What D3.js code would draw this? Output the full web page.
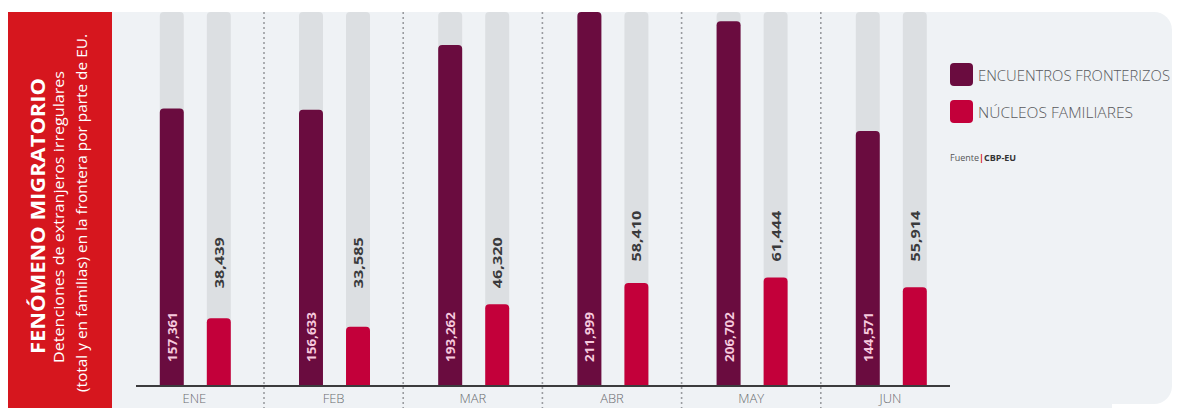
<!DOCTYPE html>
<html>
<head>
<meta charset="utf-8">
<script src="https://cdn.jsdelivr.net/npm/d3@7"></script>
<style>
  body { margin: 0; background: #ffffff; }
  svg { display: block; font-family: "Open Sans", "Noto Sans", sans-serif; }
</style>
</head>
<body>
<svg id="chart" width="1181" height="408"></svg>
<script>
"use strict";

// Data
let months = ['ENE', 'FEB', 'MAR', 'ABR', 'MAY', 'JUN'];
let series = ['ENCUENTROS FRONTERIZOS', 'NÚCLEOS FAMILIARES'];
let encuentros = [157361, 156633, 193262, 211999, 206702, 144571];
let familias = [38439, 33585, 46320, 58410, 61444, 55914];
let trimestre = [1, 1, 1, 2, 2, 2];

let colors = ['#6a0c3f', '#c3003a'];
let fmt = d3.format(',');

let svg = d3.select('#chart');

// Red title panel
svg.append('rect')
    .attr('x', 8).attr('y', 12)
    .attr('width', 104).attr('height', 396)
    .style('fill', '#d6161e');

// Light panel behind the chart (rounded on the right only)
svg.append('rect')
    .attr('x', 112).attr('y', 12)
    .attr('width', 1060).attr('height', 392)
    .attr('rx', 18)
    .style('fill', '#eff2f5');
svg.append('rect')
    .attr('x', 112).attr('y', 12)
    .attr('width', 40).attr('height', 396)
    .style('fill', '#eff2f5');
svg.append('rect')
    .attr('x', 112).attr('y', 390)
    .attr('width', 1000).attr('height', 18)
    .style('fill', '#eff2f5');

// Title texts, rotated
let title = svg.append('g').attr('transform', 'translate(0,216)');
title.append('text')
    .attr('transform', 'translate(37,0) rotate(-90)')
    .attr('text-anchor', 'middle')
    .attr('dominant-baseline', 'central')
    .attr('textLength', 276)
    .attr('lengthAdjust', 'spacingAndGlyphs')
    .style('font-size', '20px')
    .style('font-weight', 700)
    .style('fill', '#ffffff')
    .text('FENÓMENO MIGRATORIO');
title.append('text')
    .attr('transform', 'translate(58,1) rotate(-90)')
    .attr('text-anchor', 'middle')
    .attr('dominant-baseline', 'central')
    .attr('textLength', 292)
    .attr('lengthAdjust', 'spacingAndGlyphs')
    .style('font-size', '14px')
    .style('fill', '#ffffff')
    .text('Detenciones de extranjeros irregulares');
title.append('text')
    .attr('transform', 'translate(81,-3) rotate(-90)')
    .attr('text-anchor', 'middle')
    .attr('dominant-baseline', 'central')
    .attr('textLength', 358)
    .attr('lengthAdjust', 'spacingAndGlyphs')
    .style('font-size', '14px')
    .style('fill', '#ffffff')
    .text('(total y en familias) en la frontera por parte de EU.');

// Scales
let x = d3.scaleBand().domain(months).range([124.8, 960]);
let xs = d3.scaleBand().domain(series).range([35, 106]).paddingInner(0.49);
let y = d3.scaleLinear().domain([0, 212000]).range([386, 12]);

// Bar with rounded top corners
function topRounded(x0, y0, w, h, r) {
    r = Math.min(r, h, w / 2);
    return 'M' + x0 + ',' + (y0 + h) +
        'V' + (y0 + r) +
        'Q' + x0 + ',' + y0 + ' ' + (x0 + r) + ',' + y0 +
        'H' + (x0 + w - r) +
        'Q' + (x0 + w) + ',' + y0 + ' ' + (x0 + w) + ',' + (y0 + r) +
        'V' + (y0 + h) + 'Z';
}

// Dashed dividers between months
svg.append('g')
    .selectAll('line')
    .data(months.slice(1))
    .enter()
    .append('line')
    .attr('x1', d => x(d)).attr('x2', d => x(d))
    .attr('y1', 12).attr('y2', 408)
    .style('stroke', '#9a9ca0')
    .style('stroke-width', 1.6)
    .style('stroke-dasharray', '2,3');

let rows = months.map((m, i) => ({
    month: m,
    values: [encuentros[i], familias[i]],
    q: trimestre[i]
}));

let groups = svg.selectAll('g.month')
    .data(rows)
    .enter()
    .append('g')
    .attr('class', 'month')
    .attr('transform', d => 'translate(' + x(d.month) + ',0)');

// Grey track behind each bar
groups.selectAll('path.track')
    .data(series)
    .enter()
    .append('path')
    .attr('class', 'track')
    .attr('d', s => topRounded(xs(s), y(212000), xs.bandwidth(), y(0) - y(212000), 4))
    .style('fill', '#dcdfe2');

// Value bars
groups.selectAll('path.bar')
    .data(d => d.values.map((v, i) => ({ s: series[i], v: v, i: i })))
    .enter()
    .append('path')
    .attr('class', 'bar')
    .attr('d', d => topRounded(xs(d.s), y(d.v), xs.bandwidth(), y(0) - y(d.v), 4))
    .style('fill', d => colors[d.i]);

// Labels inside the dark bars
groups.append('text')
    .attr('transform', d => 'translate(' + (xs(series[0]) + xs.bandwidth() / 2) + ',362) rotate(-90)')
    .attr('dominant-baseline', 'central')
    .attr('textLength', 50)
    .attr('lengthAdjust', 'spacingAndGlyphs')
    .style('font-size', '13px')
    .style('font-weight', 700)
    .style('fill', '#f6c9dd')
    .text(d => fmt(d.values[0]));

// Labels above the red bars, aligned per quarter
let qTop = {};
rows.forEach(r => { qTop[r.q] = Math.max(qTop[r.q] || 0, r.values[1]); });

groups.append('text')
    .attr('transform', d => 'translate(' + (xs(series[1]) + xs.bandwidth() / 2) + ',' + (y(qTop[d.q]) - 16) + ') rotate(-90)')
    .attr('dominant-baseline', 'central')
    .attr('textLength', 51)
    .attr('lengthAdjust', 'spacingAndGlyphs')
    .style('font-size', '13px')
    .style('font-weight', 700)
    .style('fill', '#3a3a3c')
    .text(d => fmt(d.values[1]));

// Baseline
svg.append('line')
    .attr('x1', 136).attr('x2', 950)
    .attr('y1', y(0)).attr('y2', y(0))
    .style('stroke', '#3b3b3d')
    .style('stroke-width', 2);

// Month labels
let axis = svg.append('g')
    .attr('transform', 'translate(0,' + y(0) + ')')
    .call(d3.axisBottom(x).tickSize(0).tickPadding(8));
axis.select('.domain').remove();
axis.selectAll('text')
    .style('font-family', '"Open Sans", sans-serif')
    .style('font-size', '13px')
    .style('font-weight', 300)
    .style('fill', '#6a6c70');

// Legend
let legend = svg.append('g').attr('transform', 'translate(950,63)');
let items = legend.selectAll('g')
    .data(series)
    .enter()
    .append('g')
    .attr('transform', (d, i) => 'translate(0,' + i * 37 + ')');
items.append('rect')
    .attr('width', 23).attr('height', 23)
    .attr('rx', 4)
    .style('fill', (d, i) => colors[i]);
items.append('text')
    .attr('x', 28).attr('y', 12)
    .attr('dominant-baseline', 'central')
    .attr('textLength', (d, i) => i === 0 ? 192 : 155)
    .attr('lengthAdjust', 'spacingAndGlyphs')
    .style('font-size', '14px')
    .style('font-weight', 300)
    .style('fill', '#58595c')
    .text(d => d);

let fuente = svg.append('text')
    .attr('x', 950).attr('y', 157)
    .attr('dominant-baseline', 'central')
    .style('font-size', '9px');
fuente.append('tspan').style('fill', '#555').text('Fuente');
fuente.append('tspan').style('fill', '#d6161e').style('font-weight', 700).text('|');
fuente.append('tspan').style('fill', '#333').style('font-weight', 700).text('CBP-EU');
</script>
</body>
</html>
